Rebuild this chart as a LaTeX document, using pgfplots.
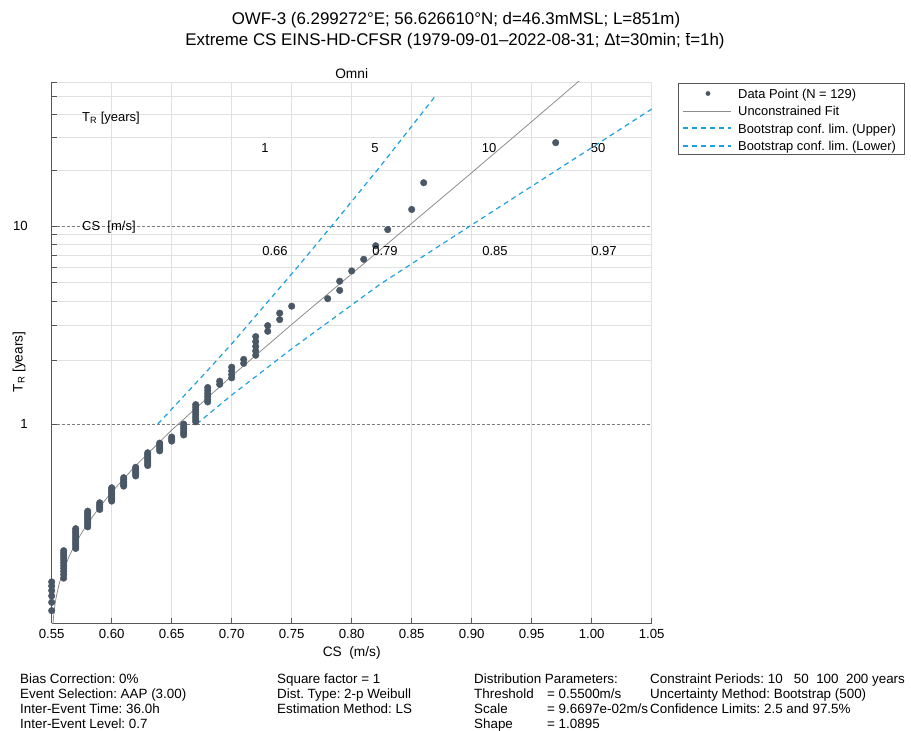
\documentclass[border=0pt]{standalone}
\usepackage{fontspec}
\setmainfont{Liberation Sans}
\usepackage{pgfplots}
\pgfplotsset{compat=1.18}
\frenchspacing

\definecolor{ptcol}{RGB}{74,88,102}
\definecolor{fitcol}{RGB}{140,140,140}
\definecolor{bscol}{RGB}{27,161,226}
\definecolor{gridcol}{RGB}{224,224,224}
\definecolor{refcol}{RGB}{125,125,125}
\definecolor{axcol}{RGB}{85,85,85}

\newcommand{\fs}[1]{\fontsize{#1}{#1}\selectfont}
\tikzset{bsline/.style={bscol, line width=1.2pt, dash pattern=on 5pt off 4pt}}

\begin{document}
\begin{tikzpicture}
\useasboundingbox (0,0) rectangle (911pt,731pt);
\begin{axis}[
  at={(51.7pt,107.7pt)}, anchor=south west,
  width=600pt, height=541.4pt, scale only axis,
  xmin=0.55, xmax=1.05, ymin=-1.5955, ymax=5.1902,
  axis lines=left, axis line style={-, axcol, line width=0.6pt},
  xtick={0.55,0.6,0.65,0.7,0.75,0.8,0.85,0.9,0.95,1,1.05},
  xticklabels={0.55,0.60,0.65,0.70,0.75,0.80,0.85,0.90,0.95,1.00,1.05},
  ytick={1.70199,2.13886,2.44172,2.67374,2.86191,3.02021,3.15682,3.27702,4.08594,4.49425,4.78335,5.00723,5.19020},
  yticklabels={},
  extra y ticks={0.90272,3.38431},
  extra y tick labels={1,10},
  extra y tick style={grid=major, major grid style={refcol, line width=0.6pt, dash pattern=on 3pt off 2pt}},
  tick align=inside, major tick length=5pt,
  tick style={axcol, line width=0.5pt},
  xmajorgrids, ymajorgrids,
  major grid style={gridcol, line width=0.6pt},
  xticklabel style={font=\fs{13.2}, anchor=center, yshift=-11pt, inner sep=0pt},
  yticklabel style={font=\fs{13.2}, anchor=east, xshift=-23.7pt, inner sep=0pt},
]
% data points
\addplot[only marks, mark=*, mark size=3.3pt, mark options={draw=ptcol, fill=ptcol}] coordinates {
(0.97,4.4284) (0.86,3.9262) (0.85,3.5913) (0.83,3.3390) (0.82,3.1363) (0.81,2.9666) (0.80,2.8205)
(0.79,2.6920) (0.79,2.5773) (0.78,2.4736) (0.75,2.3788) (0.74,2.2916) (0.74,2.2108) (0.73,2.1353) (0.73,2.0645)
(0.72,1.9980) (0.72,1.9350) (0.72,1.8752) (0.72,1.8184) (0.72,1.7641)
(0.71,1.7122) (0.71,1.6623)
(0.70,1.6144) (0.70,1.5683) (0.70,1.5238) (0.70,1.4808)
(0.69,1.4392) (0.69,1.3988)
(0.68,1.3597) (0.68,1.3216) (0.68,1.2846) (0.68,1.2486) (0.68,1.2134) (0.68,1.1791)
(0.67,1.1456) (0.67,1.1128) (0.67,1.0808) (0.67,1.0494) (0.67,1.0187) (0.67,0.98853) (0.67,0.95892) (0.67,0.92985)
(0.66,0.90128) (0.66,0.87319) (0.66,0.84554) (0.66,0.81833) (0.66,0.79153) (0.66,0.76511)
(0.65,0.73907) (0.65,0.71337) (0.65,0.68800)
(0.64,0.66295) (0.64,0.63820) (0.64,0.61374) (0.64,0.58954) (0.64,0.56561)
(0.63,0.54192) (0.63,0.51846) (0.63,0.49522) (0.63,0.47220) (0.63,0.44937) (0.63,0.42673) (0.63,0.40427) (0.63,0.38197)
(0.62,0.35983) (0.62,0.33784) (0.62,0.31598) (0.62,0.29425) (0.62,0.27264) (0.62,0.25115)
(0.61,0.22975) (0.61,0.20845) (0.61,0.18723) (0.61,0.16609) (0.61,0.14502) (0.61,0.12401)
(0.60,0.10304) (0.60,0.08213) (0.60,0.06124) (0.60,0.04037) (0.60,0.01953) (0.60,-0.00130) (0.60,-0.02214) (0.60,-0.04298) (0.60,-0.06384)
(0.59,-0.08474) (0.59,-0.10567) (0.59,-0.12665) (0.59,-0.14769) (0.59,-0.16880)
(0.58,-0.18999) (0.58,-0.21128) (0.58,-0.23267) (0.58,-0.25418) (0.58,-0.27583) (0.58,-0.29763) (0.58,-0.31959) (0.58,-0.34174) (0.58,-0.36409) (0.58,-0.38666)
(0.57,-0.40948) (0.57,-0.43256) (0.57,-0.45593) (0.57,-0.47962) (0.57,-0.50366) (0.57,-0.52809) (0.57,-0.55294) (0.57,-0.57826) (0.57,-0.60408) (0.57,-0.63047) (0.57,-0.65749)
(0.56,-0.68521) (0.56,-0.71370) (0.56,-0.74307) (0.56,-0.77341) (0.56,-0.80488) (0.56,-0.83762) (0.56,-0.87182) (0.56,-0.90774) (0.56,-0.94567) (0.56,-0.98602) (0.56,-1.02932)
(0.55,-1.07628) (0.55,-1.12794) (0.55,-1.18588) (0.55,-1.25266) (0.55,-1.33296) (0.55,-1.43692) (0.55,-1.59553)};
% unconstrained fit
\addplot[fitcol, line width=0.8pt] coordinates {
(0.551,-1.6063) (0.552,-1.4429) (0.553,-1.3337) (0.554,-1.2487) (0.556,-1.1161) (0.558,-1.01087)
(0.560,-0.92184) (0.565,-0.73959) (0.570,-0.59066) (0.575,-0.46137) (0.58,-0.34458) (0.59,-0.13681)
(0.60,0.048711) (0.62,0.38123) (0.65,0.82650) (0.70,1.50436) (0.75,2.14996) (0.80,2.78465)
(0.85,3.41748) (0.90,4.05244) (0.95,4.6926) (1.00,5.3368)};
% bootstrap upper
\addplot[bsline] coordinates {
(0.6385,0.90272) (0.68,1.575) (0.70,1.907) (0.7528,2.8328) (0.7833,3.3843) (0.8236,4.1274) (0.8694,5.00725)};
% bootstrap lower
\addplot[bsline] coordinates {
(0.6708,0.90272) (0.70,1.265) (0.75,1.845) (0.8236,2.6536) (0.8986,3.3843) (1.05,4.85) (1.066,5.0073)};
\end{axis}
% legend (drawn as a key box)
\draw[axcol, line width=0.5pt, fill=white] (678pt,577pt) rectangle (904pt,648pt);
\fill[ptcol] (708pt,637.5pt) circle (2.4pt);
\draw[fitcol, line width=0.9pt] (683pt,620pt) -- (731pt,620pt);
\draw[bscol, line width=1.4pt, dash pattern=on 5pt off 4pt] (683pt,603pt) -- (731pt,603pt);
\draw[bscol, line width=1.4pt, dash pattern=on 5pt off 4pt] (683pt,585pt) -- (731pt,585pt);
\begin{scope}[every node/.style={anchor=base west, font=\fs{12.9}, inner sep=0pt}]
\node at (738pt,632.9pt) {Data Point (N = 129)};
\node at (738pt,615.4pt) {Unconstrained Fit};
\node at (738pt,597.9pt) {Bootstrap conf. lim. (Upper)};
\node at (738pt,580.4pt) {Bootstrap conf. lim. (Lower)};
\end{scope}
% titles and labels
\node[anchor=base, font=\fs{16.9}] at (456pt,706.9pt) {OWF-3 (6.299272°E; 56.626610°N; d=46.3mMSL; L=851m)};
\node[anchor=base, font=\fs{16.9}] at (455pt,685.9pt) {Extreme CS EINS-HD-CFSR (1979-09-01–2022-08-31; Δt=30min; \ensuremath{\overline{\mbox{t}}}=1h)};
\node[anchor=base, font=\fs{13.7}] at (351.7pt,652.1pt) {Omni};
\node[anchor=base, font=\fs{13.7}] at (351.7pt,74.1pt) {CS\ \ (m/s)};
\node[anchor=center, rotate=90, font=\fs{13.7}] at (19pt,369pt) {T\textsubscript{R} [years]};
% in-plot annotations
\begin{scope}[every node/.style={inner sep=0pt, font=\fs{13}}]
\node[anchor=base west] at (82pt,609.3pt) {T\textsubscript{R} [years]};
\node[anchor=base west] at (82pt,500.3pt) {CS\ \ [m/s]};
\node[anchor=base] at (265pt,578.3pt) {1};
\node[anchor=base] at (375pt,578.3pt) {5};
\node[anchor=base] at (489pt,578.3pt) {10};
\node[anchor=base] at (598pt,578.3pt) {50};
\node[anchor=base] at (275pt,475.3pt) {0.66};
\node[anchor=base] at (385pt,475.3pt) {0.79};
\node[anchor=base] at (495pt,475.3pt) {0.85};
\node[anchor=base] at (604pt,475.3pt) {0.97};
\end{scope}
% bottom text
\begin{scope}[every node/.style={anchor=base west, font=\fs{13.4}, inner sep=0pt}]
\node at (20pt,47pt) {Bias Correction: 0\%};
\node at (20pt,32pt) {Event Selection: AAP (3.00)};
\node at (20pt,17pt) {Inter-Event Time: 36.0h};
\node at (20pt,2pt) {Inter-Event Level: 0.7};
\node at (277pt,47pt) {Square factor = 1};
\node at (277pt,32pt) {Dist. Type: 2-p Weibull};
\node at (277pt,17pt) {Estimation Method: LS};
\node at (474pt,47pt) {Distribution Parameters:};
\node at (474pt,32pt) {Threshold};
\node at (474pt,17pt) {Scale};
\node at (474pt,2pt) {Shape};
\node at (547pt,32pt) {= 0.5500m/s};
\node at (547pt,17pt) {= 9.6697e-02m/s};
\node at (547pt,2pt) {= 1.0895};
\node at (650pt,47pt) {Constraint Periods: 10\ \ \ 50\ \ 100\ \ 200 years};
\node at (650pt,32pt) {Uncertainty Method: Bootstrap (500)};
\node at (650pt,17pt) {Confidence Limits: 2.5 and 97.5\%};
\end{scope}
\end{tikzpicture}
\end{document}
